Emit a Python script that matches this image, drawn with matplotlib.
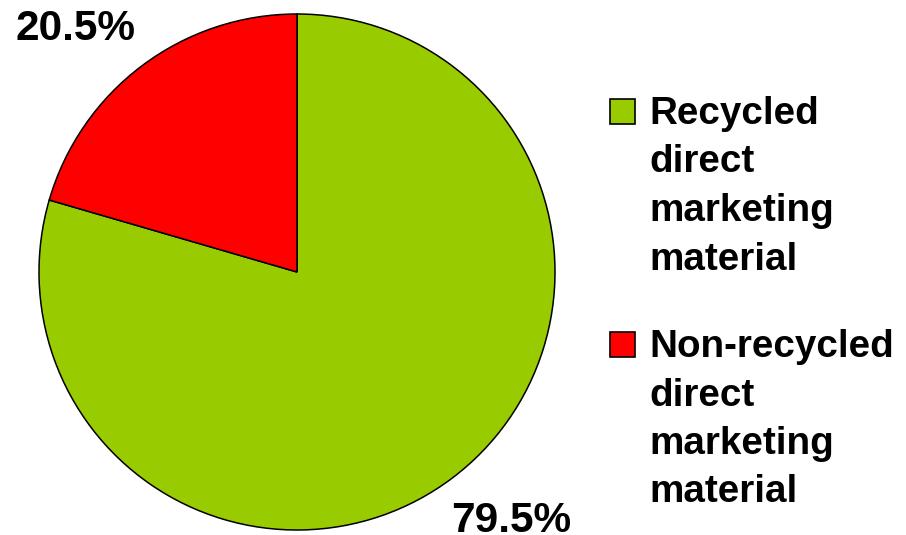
import matplotlib.pyplot as plt
from matplotlib.patches import Rectangle

# data
labels = ['Recycled\ndirect\nmarketing\nmaterial', 'Non-recycled\ndirect\nmarketing\nmaterial']
values = [79.5, 20.5]
colors = ['#99CC00', '#FF0000']

# label positions (axes fraction, baseline) for the percentage texts
pct_pos = [(0.915, -0.004), (0.07, 0.950)]

W, H = 906, 535
plt.rcParams['font.family'] = ['Liberation Sans', 'DejaVu Sans']

fig = plt.figure(figsize=(W / 100, H / 100), dpi=100)

# pie: centre (297, 272) px, radius 258 px
cx, cy, r = 297, 272, 258
ax = fig.add_axes([(cx - r) / W, (H - cy - r) / H, 2 * r / W, 2 * r / H])
wedges, _, autotexts = ax.pie(values, colors=colors, startangle=90, counterclock=False,
                              autopct=lambda p: f'{p:.1f}%', pctdistance=1.27,
                              wedgeprops=dict(edgecolor='black', linewidth=1.1),
                              textprops=dict(fontsize=30.5, fontweight='bold', color='black'))
ax.set_xlim(-1, 1)
ax.set_ylim(-1, 1)
ax.set_aspect('equal')
for t, pos in zip(autotexts, pct_pos):
    t.set_transform(ax.transAxes)
    t.set_position(pos)
    t.set_ha('center')
    t.set_va('baseline')
    t.set_clip_on(False)

# legend drawn by hand so the box sits beside the first line
def px(x, y):
    return x / W, 1 - y / H

first_base = [124, 357]
line_gap = 48.5
for lab, col, base in zip(labels, colors, first_base):
    fig.patches.append(Rectangle((610 / W, 1 - (base - 0.5) / H), 25 / W, 25 / H,
                                 transform=fig.transFigure, facecolor=col,
                                 edgecolor='black', linewidth=1.2))
    for i, line in enumerate(lab.split('\n')):
        fig.text(*px(649, base + i * line_gap), line, fontsize=27.8, fontweight='bold',
                 ha='left', va='baseline')

fig.savefig('out.png', dpi=100)
